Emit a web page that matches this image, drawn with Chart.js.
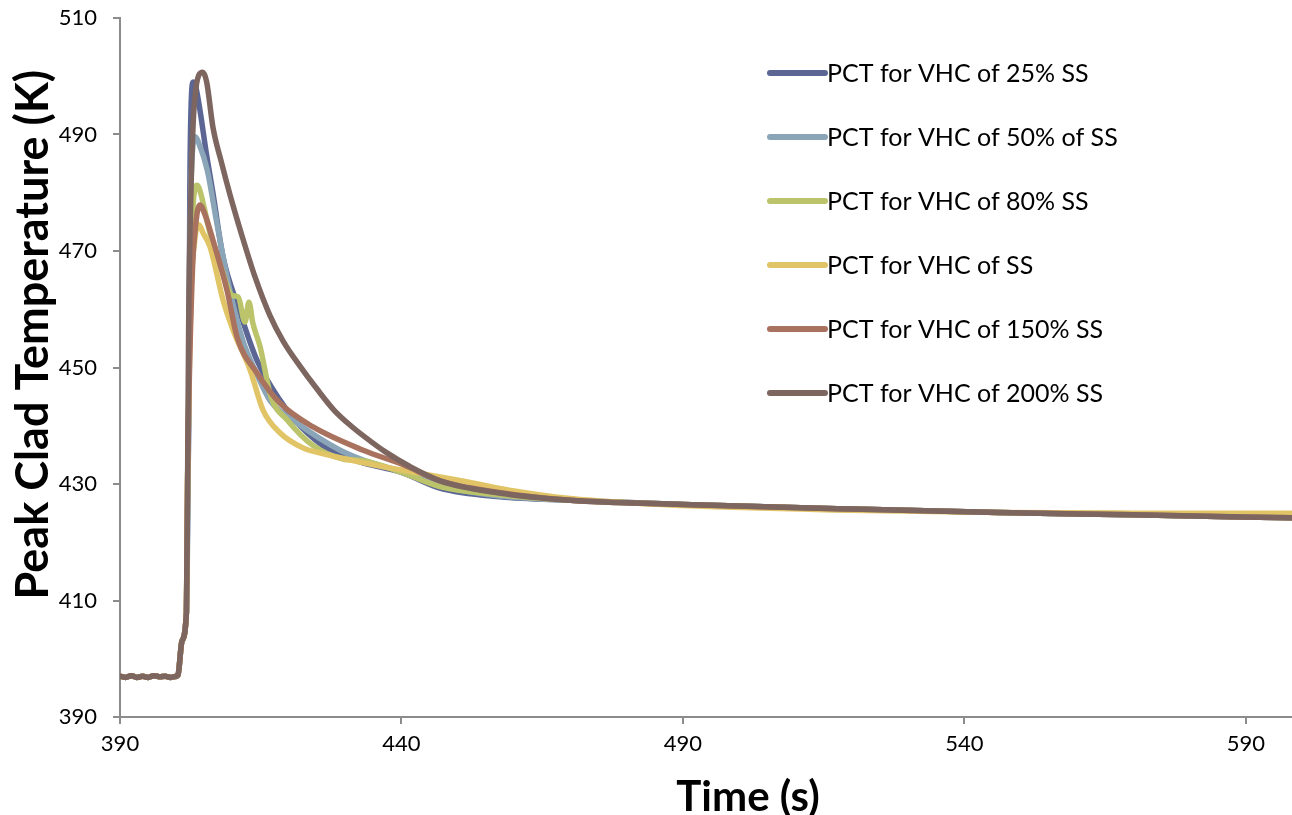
<!DOCTYPE html>
<html>
<head>
<meta charset="utf-8">
<script src="https://cdn.jsdelivr.net/npm/chart.js@4.4.0/dist/chart.umd.min.js"></script>
<style>
  html, body { margin: 0; padding: 0; background: #fff; overflow: hidden; }
  #wrap { width: 1292px; height: 815px; overflow: hidden; }
  canvas { display: block; }
</style>
</head>
<body>
<div id="wrap"><canvas id="pctChart" width="1376" height="815"></canvas></div>
<script>
const seriesLabels = [
  'PCT for VHC of 25% SS',
  'PCT for VHC of 50% of SS',
  'PCT for VHC of 80% SS',
  'PCT for VHC of SS',
  'PCT for VHC of 150% SS',
  'PCT for VHC of 200% SS'
];
const seriesColors = ['#5b6694', '#8ba5b8', '#bbc46a', '#e1c466', '#a9725f', '#7d6560'];

const xTicks = [390, 440, 490, 540, 590];
const yTicks = [390, 410, 430, 450, 470, 490, 510];

// shared flat start and early rise (before the curves separate)
const tStart = [390, 391, 392, 393, 394, 395, 396, 397, 398, 399, 400, 400.3, 401, 401.8];
const pStart = [397, 396.8, 397.1, 396.8, 397, 396.8, 397.1, 396.9, 397, 396.8, 397, 397.2, 403, 408];

// shared tail (curves overlap)
const tTail = [470, 490, 520, 546, 570, 598.2];
const pTail = [427.2, 426.5, 425.7, 425.1, 424.7, 424.2];

const t25 = [402.2, 402.4, 402.6, 403.0, 403.5, 404.2, 405.3, 406.5, 408.3, 411, 414.3, 418.4, 422, 427.3, 432.6, 440, 446.8, 457.5];
const p25 = [440, 480, 494, 499, 498, 494.2, 487, 480, 469, 460.4, 451.3, 444.4, 440, 435.8, 433.8, 432, 429.3, 427.8];

const t50 = [402.1, 402.4, 402.8, 403.4, 404, 405.5, 407.2, 409.5, 411.8, 414, 416.6, 421.4, 429.1, 435, 440, 447, 457];
const p50 = [430, 470, 486, 489.6, 488.5, 483.9, 474.8, 463.3, 454.7, 449.5, 444.4, 440.5, 435.8, 433.5, 432.2, 429.7, 428.0];

const t80 = [402, 402.5, 403, 403.7, 404.3, 406, 408, 409.9, 411.0, 412.2, 412.9, 413.6, 414.9, 416.8, 419.7, 424.3, 429.6, 433.2, 440, 447, 457];
const p80 = [430, 465, 478, 481.3, 480, 473, 467, 462.4, 462.1, 457.8, 461.2, 457.6, 453.5, 445, 441, 436.6, 434.3, 434.0, 432.0, 429.5, 428.2];

const tSS = [402, 402.6, 403.3, 404, 404.8, 406, 408.3, 410.1, 413.1, 415.4, 418.4, 422.5, 426, 429.1, 435, 440, 446.8, 452, 460];
const pSS = [430, 462, 472, 474.5, 473, 470.7, 461.6, 456.4, 449.6, 442.7, 438.8, 436.2, 435.2, 434.5, 433.3, 432.4, 431.2, 430.3, 428.8];
const tTailSS = [470, 490, 520, 546, 570, 598.2];
const pTailSS = [427.5, 426.3, 425.5, 425.1, 425.0, 425.0];

const t150 = [402, 402.8, 403.5, 404.2, 405, 406.5, 409, 410.8, 414.3, 418.4, 424.3, 433.2, 440.3, 447, 457];
const p150 = [430, 465, 475, 477.9, 476.5, 471.9, 463.3, 455.2, 449.1, 443.9, 439.8, 435.8, 433.3, 430.5, 428.6];

const t200 = [402.0, 402.2, 402.6, 403.0, 403.5, 404.0, 404.7, 405.4, 406.5, 408, 409.5, 411.8, 414, 416.6, 419, 422, 425, 428, 431, 434, 437, 441.5, 447, 457];
const p200 = [430, 458, 480, 492, 498, 500.2, 500.7, 499, 491.3, 485.3, 479.8, 472.2, 465.5, 459, 454.5, 450.2, 446.3, 442.7, 440, 437.7, 435.6, 433, 430.5, 428.5];

function toPoints(ts, ps, tailT, tailP) {
  const xs = tStart.concat(ts, tailT);
  const ys = pStart.concat(ps, tailP);
  return xs.map((x, i) => ({ x: x, y: ys[i] }));
}

const seriesData = [
  toPoints(t25, p25, tTail, pTail),
  toPoints(t50, p50, tTail, pTail),
  toPoints(t80, p80, tTail, pTail),
  toPoints(tSS, pSS, tTailSS, pTailSS),
  toPoints(t150, p150, tTail, pTail),
  toPoints(t200, p200, tTail, pTail)
];

const fontFamily = 'Lato, "Open Sans", sans-serif';

// legend drawn inside the plot, one entry per row
const sideLegend = {
  id: 'sideLegend',
  afterDraw(chart) {
    const ctx = chart.ctx;
    const x0 = 770, x1 = 825, yTop = 73, gap = 64;
    ctx.save();
    chart.data.datasets.forEach((ds, i) => {
      const y = yTop + i * gap;
      ctx.strokeStyle = ds.borderColor;
      ctx.lineWidth = 6;
      ctx.lineCap = 'round';
      ctx.beginPath();
      ctx.moveTo(x0, y);
      ctx.lineTo(x1, y);
      ctx.stroke();
      ctx.fillStyle = '#000';
      ctx.font = '25px ' + fontFamily;
      ctx.textBaseline = 'middle';
      ctx.fillText(ds.label, x1 + 2, y + 1);
    });
    ctx.restore();
  }
};

const ctx = document.getElementById('pctChart').getContext('2d');
new Chart(ctx, {
  type: 'line',
  data: {
    datasets: seriesLabels.map((label, i) => ({
      label: label,
      data: seriesData[i],
      borderColor: seriesColors[i],
      backgroundColor: seriesColors[i],
      borderWidth: 5.5,
      pointRadius: 0,
      cubicInterpolationMode: 'monotone',
      borderJoinStyle: 'round',
      borderCapStyle: 'round',
      order: seriesLabels.length - i
    }))
  },
  options: {
    responsive: false,
    animation: false,
    layout: { padding: { top: 0, left: 0, right: 0, bottom: 0 } },
    plugins: {
      legend: { display: false },
      tooltip: { enabled: false }
    },
    scales: {
      x: {
        type: 'linear',
        min: 390,
        max: 613.1,
        afterFit(scale) { scale.height = 98; },
        afterBuildTicks(scale) { scale.ticks = xTicks.map(v => ({ value: v })); },
        border: { color: '#8c8c8c', width: 2 },
        grid: { drawOnChartArea: false, drawTicks: true, tickLength: 7, color: '#8c8c8c', lineWidth: 2 },
        ticks: { color: '#000', font: { family: fontFamily, size: 22 }, padding: 7 },
        title: {
          display: true,
          text: 'Time (s)',
          color: '#000',
          font: { family: fontFamily, size: 42, weight: 'bold', lineHeight: 0.8 },
          padding: { top: 0, bottom: 1 }
        }
      },
      y: {
        min: 390,
        max: 510,
        afterFit(scale) {
          scale.width = 120;
          scale.paddingTop = 18;
          scale.paddingBottom = 0;
        },
        afterBuildTicks(scale) { scale.ticks = yTicks.map(v => ({ value: v })); },
        border: { color: '#8c8c8c', width: 2 },
        grid: { drawOnChartArea: false, drawTicks: true, tickLength: 7, color: '#8c8c8c', lineWidth: 2 },
        ticks: { color: '#000', font: { family: fontFamily, size: 22 }, padding: 16 },
        title: {
          display: true,
          text: '      Peak Clad Temperature (K)',
          color: '#000',
          font: { family: fontFamily, size: 45, weight: 'bold', lineHeight: 0.8 },
          padding: { top: 15, bottom: 0 }
        }
      }
    }
  },
  plugins: [sideLegend]
});
</script>
</body>
</html>
